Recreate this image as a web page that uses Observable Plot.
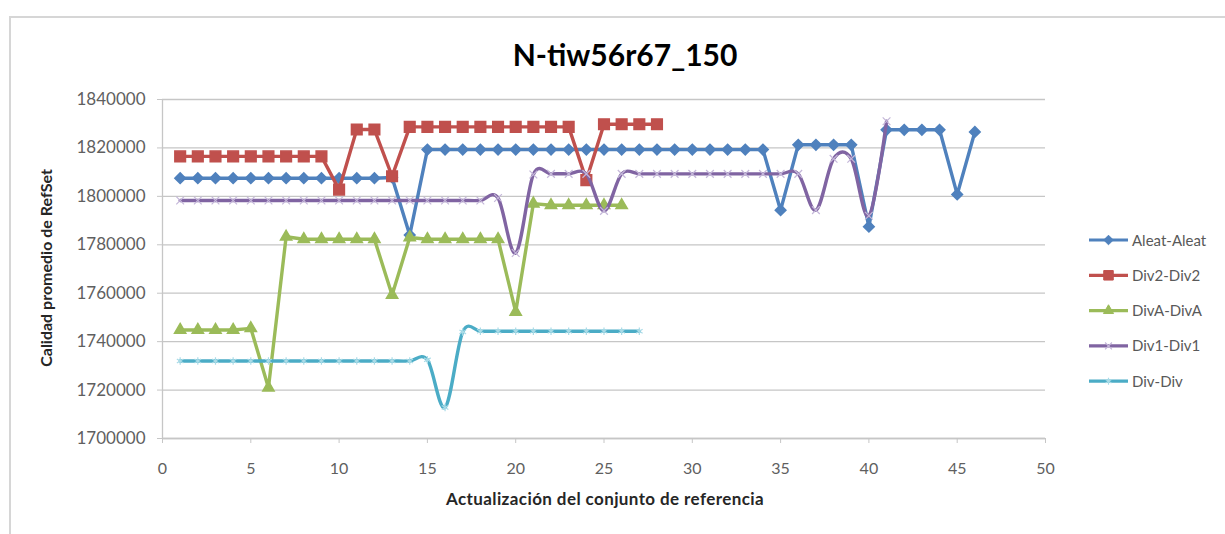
<!DOCTYPE html>
<html><head><meta charset="utf-8">
<script src="https://cdn.jsdelivr.net/npm/d3@7"></script>
<script src="https://cdn.jsdelivr.net/npm/@observablehq/plot@0.6"></script>
<style>
body{margin:0;background:#fff;}
#wrap{position:relative;width:1225px;height:534px;overflow:hidden;font-family:Lato,"Open Sans",sans-serif;}
#wrap > svg{position:absolute;left:0;top:0;}
</style></head>
<body><div id="wrap"></div>
<script>
const title = "N-tiw56r67_150";
const xLabel = "Actualización del conjunto de referencia";
const yLabel = "Calidad promedio de RefSet";
const xTicks = [0, 5, 10, 15, 20, 25, 30, 35, 40, 45, 50];
const yTicks = [1700000, 1720000, 1740000, 1760000, 1780000, 1800000, 1820000, 1840000];
const updates = [1,2,3,4,5,6,7,8,9,10,11,12,13,14,15,16,17,18,19,20,21,22,23,24,25,26,27,28,29,30,31,32,33,34,35,36,37,38,39,40,41,42,43,44,45,46];
const seriesNames = ["Aleat-Aleat", "Div2-Div2", "DivA-DivA", "Div1-Div1", "Div-Div"];
const aleat = [1807500,1807500,1807500,1807500,1807500,1807500,1807500,1807500,1807500,1807500,1807500,1807500,1807800,1784000,
  1819300,1819300,1819300,1819300,1819300,1819300,1819300,1819300,1819300,1819300,1819300,1819300,1819300,1819300,1819300,1819300,1819300,1819300,1819300,1819300,
  1794300,1821300,1821300,1821300,1821300,1787500,1827500,1827500,1827500,1827500,1800800,1826600];
const div2 = [1816500,1816500,1816500,1816500,1816500,1816500,1816500,1816500,1816500,1802800,1827600,1827600,1808300,
  1828700,1828700,1828700,1828700,1828700,1828700,1828700,1828700,1828700,1828700,1806700,1829800,1829800,1829800,1829800];
const divA = [1744800,1744800,1744800,1744800,1745500,1721000,1783300,1782300,1782300,1782300,1782300,1782300,1759300,1783000,
  1782300,1782300,1782300,1782300,1782300,1752300,1797000,1796300,1796300,1796300,1796300,1796300];
const div1 = [1798300,1798300,1798300,1798300,1798300,1798300,1798300,1798300,1798300,1798300,1798300,1798300,1798300,1798300,1798300,1798300,1798300,1798300,
  1799300,1776600,1809000,1809300,1809300,1809300,1794000,1809300,1809300,1809300,1809300,1809300,1809300,1809300,1809300,1809300,1809300,
  1809300,1794300,1815500,1815500,1792000,1831000];
const divDiv = [1732000,1732000,1732000,1732000,1732000,1732000,1732000,1732000,1732000,1732000,1732000,1732000,1732000,1732000,
  1732500,1712800,1744000,1744300,1744300,1744300,1744300,1744300,1744300,1744300,1744300,1744300,1744300];

const colors = ["#4F81BD", "#C0504D", "#9BBB59", "#8064A2", "#4BACC6"];
const toRows = vals => vals.map((v, i) => ({x: updates[i], y: v}));
const smooth = d3.curveCatmullRom.alpha(0);
const all = [aleat, div2, divA, div1, divDiv].map(toRows);

const markerSpec = [
  {symbol: "diamond2", r: 4.8, fill: colors[0], stroke: colors[0]},
  {symbol: "square", r: 6.0, fill: colors[1], stroke: colors[1]},
  {symbol: "triangle", r: 4.2, fill: colors[2], stroke: colors[2]},
  {symbol: "times", r: 3.6, fill: "none", stroke: "#c4b7d9", strokeWidth: 1.2},
  {symbol: "asterisk", r: 3.6, fill: "none", stroke: "#a9dbe7", strokeWidth: 1.2}
];

const marks = [
  Plot.gridY(yTicks, {stroke: "#c6c6c6", strokeOpacity: 1, strokeWidth: 1.3}),
  Plot.ruleX([0], {stroke: "#c6c6c6", strokeWidth: 1.3}),
  Plot.ruleY([1700000], {stroke: "#c6c6c6", strokeWidth: 1.3}),
  Plot.axisY(yTicks, {tickFormat: d3.format("d"), tickSize: 5, tickPadding: 12, fontSize: 17, fill: "#5f5f5f", stroke: "#c6c6c6", label: null}),
  Plot.axisX(xTicks, {tickSize: 5, tickPadding: 19, fontSize: 16, fill: "#5f5f5f", stroke: "#c6c6c6", label: null})
];
all.forEach((rows, i) => {
  marks.push(Plot.line(rows, {x: "x", y: "y", stroke: colors[i], strokeWidth: 3.4, curve: i >= 3 ? smooth : "linear"}));
  marks.push(Plot.dot(rows, {x: "x", y: "y", ...markerSpec[i]}));
});

const chart = Plot.plot({
  width: 1225, height: 534,
  marginLeft: 162, marginRight: 180, marginTop: 99, marginBottom: 96,
  x: {domain: [0, 50]},
  y: {domain: [1700000, 1840000]},
  style: {fontFamily: "Lato, 'Open Sans', sans-serif", background: "transparent"},
  marks
});

const wrap = document.getElementById("wrap");
const ov = d3.create("svg").attr("width", 1225).attr("height", 534)
  .style("font-family", "Lato, 'Open Sans', sans-serif");
ov.append("rect").attr("x", 10).attr("y", 17).attr("width", 1400).attr("height", 700)
  .attr("fill", "none").attr("stroke", "#d6d6d6").attr("stroke-width", 2);
wrap.appendChild(ov.node());
wrap.appendChild(chart);

const ov2 = d3.create("svg").attr("width", 1225).attr("height", 534)
  .style("font-family", "Lato, 'Open Sans', sans-serif");
ov2.append("text").attr("x", 625).attr("y", 66).attr("text-anchor", "middle")
  .attr("font-size", 30).attr("font-weight", "bold").attr("fill", "#000").text(title);
ov2.append("text").attr("x", 605).attr("y", 505).attr("text-anchor", "middle")
  .attr("font-size", 17).attr("letter-spacing", 0.4).attr("font-weight", "bold").attr("fill", "#262626").text(xLabel);
ov2.append("text").attr("transform", "translate(52,268) rotate(-90)").attr("text-anchor", "middle")
  .attr("font-size", 16).attr("font-weight", "bold").attr("fill", "#262626").text(yLabel);
const symMap = {diamond2: d3.symbolDiamond2, square: d3.symbolSquare, triangle: d3.symbolTriangle, times: d3.symbolTimes, asterisk: d3.symbolAsterisk};
seriesNames.forEach((name, i) => {
  const y = 240 + i * 35.3;
  const g = ov2.append("g");
  g.append("line").attr("x1", 1089).attr("x2", 1128).attr("y1", y).attr("y2", y)
    .attr("stroke", colors[i]).attr("stroke-width", 3.2);
  const m = markerSpec[i];
  g.append("path").attr("transform", `translate(1108.5,${y})`)
    .attr("d", d3.symbol(symMap[m.symbol], Math.PI * m.r * m.r * 0.8)())
    .attr("fill", m.fill).attr("stroke", m.stroke).attr("stroke-width", m.strokeWidth || 1);
  g.append("text").attr("x", 1132).attr("y", y + 5.5).attr("font-size", 15)
    .attr("fill", "#595959").text(name);
});
wrap.appendChild(ov2.node());
</script></body></html>
